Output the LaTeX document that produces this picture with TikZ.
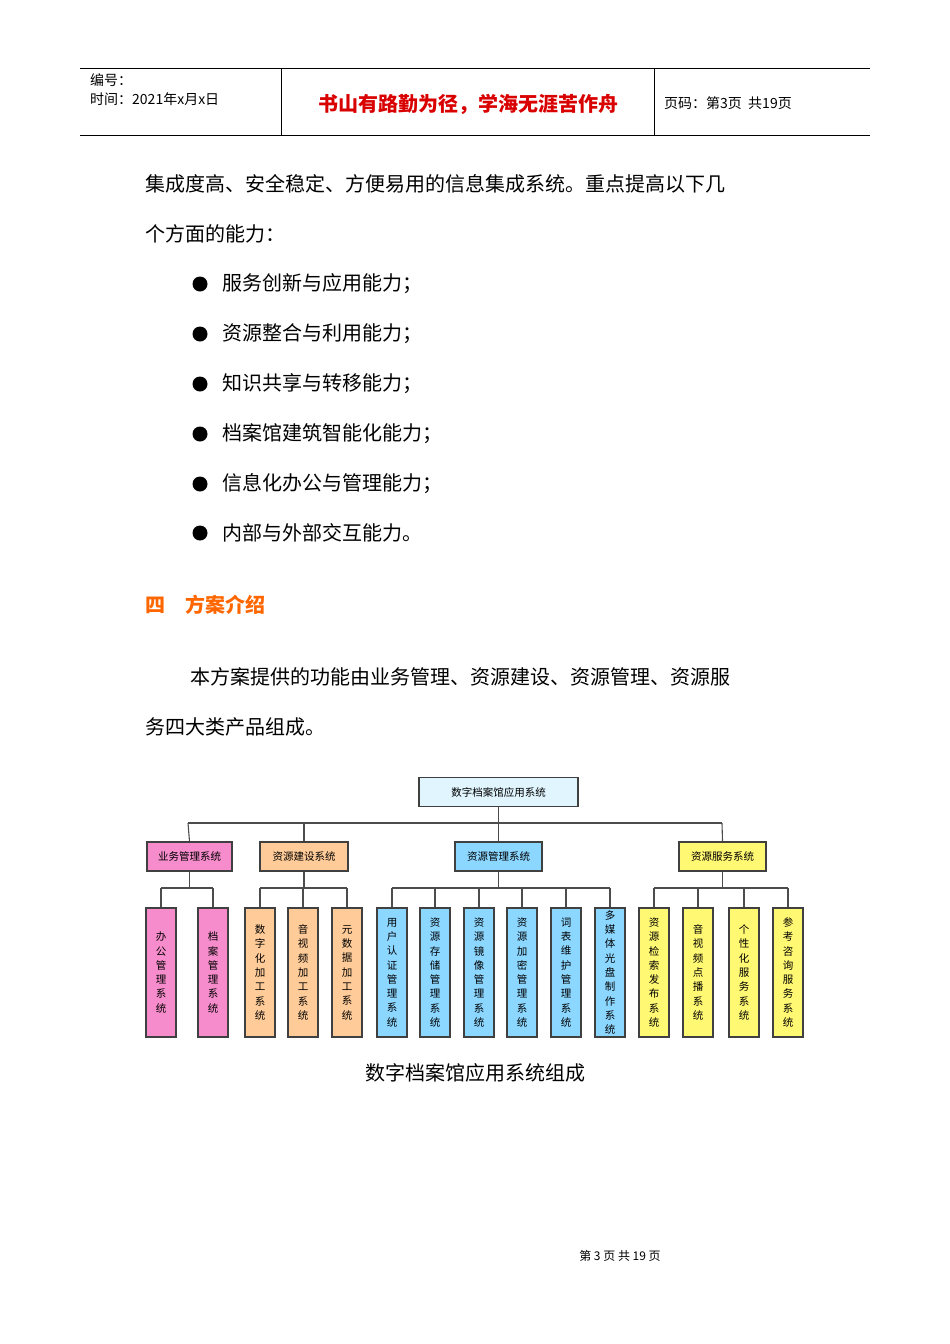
\documentclass[tikz,border=0pt]{standalone}
\usepackage{fontspec}
\setmainfont{Noto Sans CJK SC}
\begin{document}
\begin{tikzpicture}[x=1pt,y=-1pt,
 body/.style={anchor=west,font=\fontsize{20}{24}\selectfont,inner sep=0},
 hb/.style={draw=black!75,line width=1.2pt,minimum height=29pt,font=\fontsize{10.5}{12}\selectfont,inner sep=0},
 leaf/.style={draw=black!75,line width=1.2pt,minimum width=30pt,minimum height=129pt,inner sep=0,align=center,font=\fontsize{10.5}{14.3}\selectfont},
 con/.style={draw=black!70,line width=1.1pt}]
\useasboundingbox (0,0) rectangle (950,1344);
% header
\draw[line width=0.6pt] (80,68) -- (870,68) (80,135) -- (870,135) (281,68) -- (281,135) (654,68) -- (654,135);
\node[anchor=west,inner sep=0,font=\fontsize{14}{16}\selectfont] (h1) at (90,80) {编号：};
\node[anchor=west,inner sep=0,font=\fontsize{14}{16}\selectfont] (h2) at (90,99) {时间：2021年x月x日};
\node[inner sep=0,font=\fontsize{20}{24}\selectfont\bfseries,text=red!85!black] (h3) at (468,104) {书山有路勤为径，学海无涯苦作舟};
\node[anchor=west,inner sep=0,font=\fontsize{14}{16}\selectfont] (h4) at (664,103) {页码：第3页\ \ 共19页};
% body
\node[body] (t1) at (145,184) {集成度高、安全稳定、方便易用的信息集成系统。重点提高以下几};
\node[body] (t2) at (145,234) {个方面的能力：};
\foreach \y/\t [count=\i] in {284/服务创新与应用能力；,334/资源整合与利用能力；,384/知识共享与转移能力；,434/档案馆建筑智能化能力；,484/信息化办公与管理能力；,533/内部与外部交互能力。}{
 \fill (200,\y) circle (7.5);
 \node[body] (b\i) at (222,\y) {\t};
}
\node[body,text=orange!80!red,font=\fontsize{20}{24}\selectfont\bfseries] (hd) at (145,605) {四\quad 方案介绍};
\node[body] (p1) at (190,677) {本方案提供的功能由业务管理、资源建设、资源管理、资源服};
\node[body] (p2) at (145,727) {务四大类产品组成。};
% diagram
\node[hb,fill=cyan!12,minimum width=159pt] (root) at (498.5,792) {数字档案馆应用系统};
\node[hb,fill=magenta!45,minimum width=85pt] (g1) at (189.5,856.5) {业务管理系统};
\node[hb,fill=orange!40,minimum width=88pt] (g2) at (304,856.5) {资源建设系统};
\node[hb,fill=blue!35!cyan!45,minimum width=87pt] (g3) at (498.5,856.5) {资源管理系统};
\node[hb,fill=yellow!55,minimum width=87pt] (g4) at (722.5,856.5) {资源服务系统};
\draw[con] (root.south) -- (498.5,823) (188,823) -- (722,823);
\foreach \g/\x in {g1/188,g2/304,g3/498.5,g4/722}{\draw[con] (\x,823) -- (\g.north);}
\foreach \n/\x/\c/\t in {
 l1/161/magenta!45/办\\公\\管\\理\\系\\统,
 l2/213/magenta!45/档\\案\\管\\理\\系\\统,
 l3/260/orange!40/数\\字\\化\\加\\工\\系\\统,
 l4/303/orange!40/音\\视\\频\\加\\工\\系\\统,
 l5/347/orange!40/元\\数\\据\\加\\工\\系\\统,
 l6/392/blue!35!cyan!45/用\\户\\认\\证\\管\\理\\系\\统,
 l7/435/blue!35!cyan!45/资\\源\\存\\储\\管\\理\\系\\统,
 l8/479/blue!35!cyan!45/资\\源\\镜\\像\\管\\理\\系\\统,
 l9/522/blue!35!cyan!45/资\\源\\加\\密\\管\\理\\系\\统,
 l10/566/blue!35!cyan!45/词\\表\\维\\护\\管\\理\\系\\统,
 l11/610/blue!35!cyan!45/多\\媒\\体\\光\\盘\\制\\作\\系\\统,
 l12/654/yellow!55/资\\源\\检\\索\\发\\布\\系\\统,
 l13/698/yellow!55/音\\视\\频\\点\\播\\系\\统,
 l14/744/yellow!55/个\\性\\化\\服\\务\\系\\统,
 l15/788/yellow!55/参\\考\\咨\\询\\服\\务\\系\\统}{
 \node[leaf,fill=\c] (\n) at (\x,972.5) {\t};
 \draw[con] (\x,888) -- (\n.north);
}
\draw[con] (g1.south) |- (161,888) (161,888) -- (213,888);
\draw[con] (g2.south) |- (260,888) (260,888) -- (347,888);
\draw[con] (g3.south) |- (392,888) (392,888) -- (610,888);
\draw[con] (g4.south) |- (654,888) (654,888) -- (788,888);
\node[inner sep=0,font=\fontsize{20}{24}\selectfont] (cap) at (475,1073) {数字档案馆应用系统组成};
\node[inner sep=0,font=\fontsize{12}{14}\selectfont] (ft) at (620,1256) {第 3 页 共 19 页};
\end{tikzpicture}
\end{document}
